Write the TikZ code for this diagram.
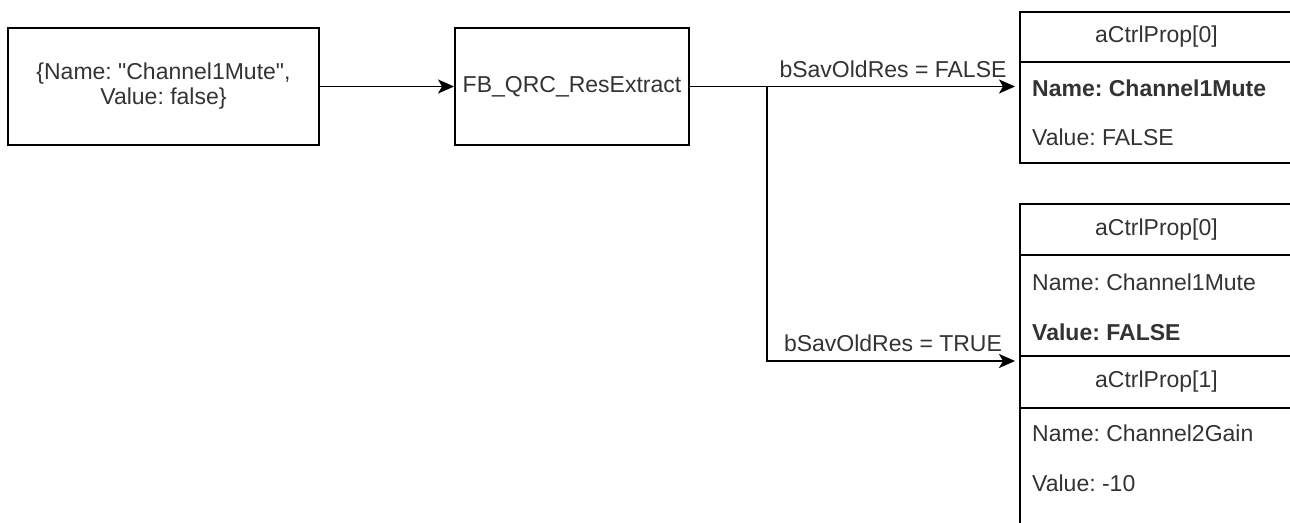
\documentclass[tikz,border=0pt]{standalone}
\usepackage{fontspec}
\setmainfont{Liberation Sans}[Ligatures=TeXOff]
\usetikzlibrary{arrows.meta}
\definecolor{ink}{HTML}{000000}
\definecolor{txt}{HTML}{333333}
\tikzset{
  every node/.style={text=txt, font=\fontsize{23}{25}\selectfont\frenchspacing},
  block/.style={draw=ink, line width=1.9pt, inner sep=0pt, align=center},
  frame/.style={draw=ink, line width=1.9pt, inner sep=0pt, minimum width=273pt, anchor=north west},
  field/.style={anchor=west, inner xsep=13pt, inner ysep=0pt},
  link/.style={draw=ink, line width=1.9pt, -{Stealth[length=16pt,width=14pt,inset=4pt]}},
  wire/.style={draw=ink, line width=1.9pt},
  lbl/.style={anchor=base, yshift=9pt}
}
\begin{document}
\begin{tikzpicture}[x=1pt,y=-1pt]
\useasboundingbox (0,0) rectangle (1290,522);
\clip (0,0) rectangle (1290,522);

% input record and extraction block
\node[block, minimum width=311pt, minimum height=117pt] (src) at (163.5,86.5)
  {\{Name: "Channel1Mute",\\ Value: false\}};
\node[block, minimum width=234pt, minimum height=117pt] (fb) at (572,86.5)
  {FB\_QRC\_ResExtract};

% result array when old results are discarded
\node[frame, minimum height=50pt] (hdA) at (1019,11) {aCtrlProp[0]};
\node[frame, minimum height=101pt] (bodyA) at (1019,61) {};
\node[field] (nameA) at (1019,88) {\textbf{Name: Channel1Mute}};
\node[field] (valA) at (1019,137) {Value: FALSE};

% result array when old results are kept
\node[frame, minimum height=51pt] (hdB) at (1019,203) {aCtrlProp[0]};
\node[frame, minimum height=101pt] (bodyB) at (1019,254) {};
\node[field] (nameB) at (1019,282) {Name: Channel1Mute};
\node[field] (valB) at (1019,332) {\textbf{Value: FALSE}};
\node[frame, minimum height=52pt] (hdC) at (1019,355) {aCtrlProp[1]};
\node[frame, minimum height=140pt] (bodyC) at (1019,407) {};
\node[field] (nameC) at (1019,433) {Name: Channel2Gain};
\node[field] (valC) at (1019,483) {Value: -10};

% connectors
\coordinate (split) at (767,86.5);
\coordinate (turn) at (767,361);
\draw[link] (src) -- (fb);
\draw[wire] (fb.east) -- (split);
\draw[link, shorten >=4pt] (split) -- node[lbl] {bSavOldRes = FALSE} (split -| bodyA.west);
\draw[link, shorten >=4pt] (split) -- (turn) -- node[lbl, yshift=1pt] {bSavOldRes = TRUE} (turn -| bodyB.west);
\end{tikzpicture}
\end{document}
